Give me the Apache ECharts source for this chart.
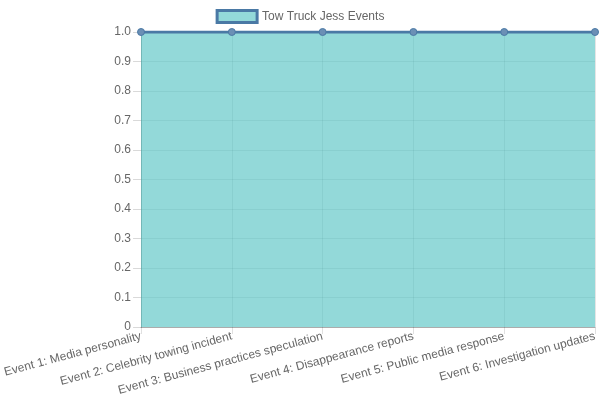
<!DOCTYPE html>
<html><head><meta charset="utf-8">
<script src="https://cdn.jsdelivr.net/npm/echarts@6/dist/echarts.min.js"></script>
<style>html,body{margin:0;padding:0;background:#fff}#c{width:600px;height:400px}</style>
</head><body><div id="c"></div>
<script>
const categories = ["Event 1: Media personality","Event 2: Celebrity towing incident","Event 3: Business practices speculation","Event 4: Disappearance reports","Event 5: Public media response","Event 6: Investigation updates"];
const seriesName = "Tow Truck Jess Events";
const values = [1,1,1,1,1,1];

const chart = echarts.init(document.getElementById('c'));
chart.setOption({
  animation:false,
  textStyle:{fontFamily:'Liberation Sans, Arial, sans-serif'},
  legend:{top:4,left:'center',itemWidth:40,itemHeight:12,itemGap:6,
    textStyle:{color:'#666',fontSize:12},
    data:[{name:seriesName,icon:'rect',itemStyle:{color:'rgba(75,192,192,0.6)',borderColor:'#4a79a5',borderWidth:3}}]},
  grid:{left:141,right:5,top:32,bottom:73,containLabel:false},
  xAxis:{type:'category',data:categories,boundaryGap:false,
    axisLine:{show:true,lineStyle:{color:'rgba(0,0,0,0.25)'}},
    axisTick:{show:true,length:7,lineStyle:{color:'rgba(0,0,0,0.12)'}},
    splitLine:{show:true,lineStyle:{color:'rgba(0,0,0,0.1)'}},
    axisLabel:{rotate:15,interval:0,color:'#666',fontSize:12,margin:9}},
  yAxis:{type:'value',min:0,max:1,interval:0.1,
    axisLine:{show:true,lineStyle:{color:'rgba(0,0,0,0.25)'}},
    axisTick:{show:true,length:8,lineStyle:{color:'rgba(0,0,0,0.15)'}},
    splitLine:{show:true,lineStyle:{color:'rgba(0,0,0,0.1)'}},
    axisLabel:{color:'#666',fontSize:12,margin:10,formatter:v=>v===0?'0':v.toFixed(1)}},
  series:[{name:seriesName,type:'line',data:values,
    symbol:'circle',symbolSize:7,
    lineStyle:{color:'#4a79a5',width:3},
    itemStyle:{color:'#6b8fb5',borderColor:'#4a79a5',borderWidth:1},
    areaStyle:{color:'rgba(75,192,192,0.6)',opacity:1,origin:'start'}}]
});
</script></body></html>
